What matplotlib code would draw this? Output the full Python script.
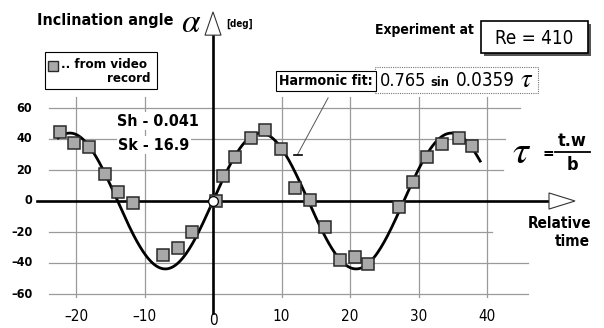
import numpy as np
import matplotlib
matplotlib.use("Agg")
import matplotlib.pyplot as plt
from matplotlib.patches import Polygon, Rectangle

# ---------------------------------------------------------------------------
# data
# ---------------------------------------------------------------------------
tau_video = [-22.4, -20.3, -18.1, -15.8, -13.8, -11.7, -7.3, -5.1, -3.0, 0.4,
             1.4, 3.2, 5.5, 7.6, 9.9, 12.0, 14.2, 16.4, 18.5, 20.8, 22.7,
             27.1, 29.2, 31.2, 33.4, 35.9, 37.8]
alpha_video = [44.7, 37.6, 35.0, 17.4, 5.8, -1.5, -34.8, -30.0, -19.8, 0.0,
               16.0, 28.6, 40.4, 45.8, 33.3, 8.6, 0.6, -16.6, -38.0, -36.3,
               -40.6, -3.7, 12.5, 28.6, 36.6, 40.4, 35.5]

# harmonic fit shown on the chart: 0.765 sin(0.0359 tau), tau in cycles
fit_amp_rad = 0.765
fit_freq = 0.0359
fit_range = (-22.6, 39.0)

y_ticks = [60, 40, 20, 0, -20, -40, -60]
x_ticks = [-20, -10, 0, 10, 20, 30, 40]
grid_y = [60, 40, 20, -20, -40, -60]
grid_y_end = [44.8, 42.6, 42.3, 40.7, 46.0, 46.0]
grid_x = [-20, -10, 10, 20, 30, 40]

# ---------------------------------------------------------------------------
W, H = 604, 328
plt.rcParams['font.family'] = ['DejaVu Sans']
plt.rcParams['font.stretch'] = 'condensed'
plt.rcParams['mathtext.fontset'] = 'stix'

fig = plt.figure(figsize=(W / 100, H / 100), dpi=100)
ax = fig.add_axes([0, 0, 1, 1])
ax.set_xlim(-213 / 6.85, (W - 213) / 6.85)
ax.set_ylim((201 - H) / 1.55, 201 / 1.55)
ax.axis('off')


def px(x, y):
    """pixel position (from top-left) -> axes fraction"""
    return x / W, 1 - y / H


def ptext(x, y, s, **kw):
    kw.setdefault('ha', 'left')
    kw.setdefault('va', 'center')
    return ax.text(*px(x, y), s, transform=ax.transAxes, **kw)


# grid
for yv, xe in zip(grid_y, grid_y_end):
    ax.plot([-23.9, xe], [yv, yv], color='#9a9a9a', lw=0.9, zorder=1)
for xv in grid_x:
    ax.plot([xv, xv], [-62, 67], color='#9a9a9a', lw=0.9, zorder=1)

# axes with open arrow heads
ax.plot([-25.7, 49.05], [0, 0], color='black', lw=1.9, zorder=3)
ax.add_patch(Polygon([[49.05, 5.2], [52.85, 0], [49.05, -5.2]], closed=True,
                     facecolor='white', edgecolor='#333333', lw=0.8, zorder=3))
ax.plot([0, 0], [-72, 107], color='black', lw=1.9, zorder=3)
ax.add_patch(Polygon([[-1.17, 107], [0, 122], [1.17, 107]], closed=True,
                     facecolor='white', edgecolor='#333333', lw=0.8, zorder=3))

# harmonic fit curve
tau_fit = np.linspace(fit_range[0], fit_range[1], 400)
alpha_fit = np.degrees(fit_amp_rad) * np.sin(2 * np.pi * fit_freq * tau_fit)
ax.plot(tau_fit, alpha_fit, color='black', lw=2.0, zorder=4)

# measured points
ax.plot(tau_video, alpha_video, ls='none', marker='s', ms=9.2,
        mfc='#a9a9a9', mec='#2a2a2a', mew=1.1, zorder=5)
ax.plot([0], [0], ls='none', marker='o', ms=7, mfc='white', mec='black',
        mew=0.9, zorder=6)

# tick labels
for v in y_ticks:
    ax.text(-26.4, v, str(v).replace('-', '\u2013'), ha='right', va='center',
            fontsize=9, fontweight='bold')
for v in x_ticks:
    yy = -77.0 if v == 0 else -74.6
    ax.text(v, yy, str(v).replace('-', '\u2013'), ha='center', va='center',
            fontsize=11)

# titles / labels
ptext(37, 21, 'Inclination angle', fontsize=11.5, fontweight='bold')
ptext(181, 22, r'$\alpha$', fontsize=24)
ptext(226, 24, '[deg]', fontsize=7, fontweight='bold')

ptext(375, 30, 'Experiment at', fontsize=10, fontweight='bold')
ax.add_patch(Rectangle(px(484, 56), 107 / W, 32 / H, transform=ax.transAxes,
                       facecolor='#555555', edgecolor='none', zorder=7))
ax.add_patch(Rectangle(px(481, 53), 107 / W, 32 / H, transform=ax.transAxes,
                       facecolor='white', edgecolor='black', lw=1.2, zorder=8))
ptext(534, 38, 'Re = 410', fontsize=13.5, ha='center', zorder=9)

# legend box
ax.add_patch(Rectangle(px(45, 89), 112 / W, 37 / H, transform=ax.transAxes,
                       facecolor='white', edgecolor='black', lw=0.8, zorder=7))
ax.plot(*px(53, 66), transform=ax.transAxes, marker='s', ms=7.5,
        mfc='#a9a9a9', mec='#2a2a2a', mew=1.0, zorder=8)
ptext(61, 64, '.. from video', fontsize=9.5, fontweight='bold', zorder=8)
ptext(150, 79, 'record', fontsize=9.5, fontweight='bold', ha='right', zorder=8)

# Strouhal numbers
ptext(117, 121, 'Sh - 0.041', fontsize=11.5, fontweight='bold', zorder=7,
      bbox=dict(facecolor='white', edgecolor='none', pad=1))
ptext(118, 145, 'Sk - 16.9', fontsize=11.5, fontweight='bold', zorder=7,
      bbox=dict(facecolor='white', edgecolor='none', pad=1))

# harmonic fit label
ptext(279, 81, 'Harmonic fit:', fontsize=10.2, fontweight='bold', zorder=8,
      bbox=dict(facecolor='white', edgecolor='black', lw=0.8,
                boxstyle='square,pad=0.2'))
ax.add_patch(Rectangle(px(375, 93), 163 / W, 26 / H, transform=ax.transAxes,
                       facecolor='white', edgecolor='#777777', lw=0.8,
                       ls=(0, (1, 1)), zorder=7))
ptext(380, 81, '0.765', fontsize=13, zorder=8)
ptext(430, 82, 'sin', fontsize=9, fontweight='bold', zorder=8)
ptext(456, 81, '0.0359', fontsize=13.5, zorder=8)
ptext(520, 80, r'$\tau$', fontsize=19, zorder=8)
ax.plot([16.8, 12.3], [66.5, 29.7], color='#555555', lw=0.7, zorder=6)
ax.plot([11.8, 13.0], [29.7, 29.7], color='black', lw=1.2, zorder=6)

# definition of relative time
ptext(512, 152, r'$\tau$', fontsize=29)
ptext(543, 153, '=', fontsize=11, fontweight='bold')
ptext(572, 141, 't.w', fontsize=13, fontweight='bold', ha='center')
ax.plot(*zip(px(555, 152), px(590, 152)), transform=ax.transAxes,
        color='black', lw=1.3)
ptext(572, 165, 'b', fontsize=13, fontweight='bold', ha='center')

ptext(591, 224, 'Relative', fontsize=11, fontweight='bold', ha='right')
ptext(590, 241, 'time', fontsize=11, fontweight='bold', ha='right')

fig.savefig('out.png', dpi=100)
